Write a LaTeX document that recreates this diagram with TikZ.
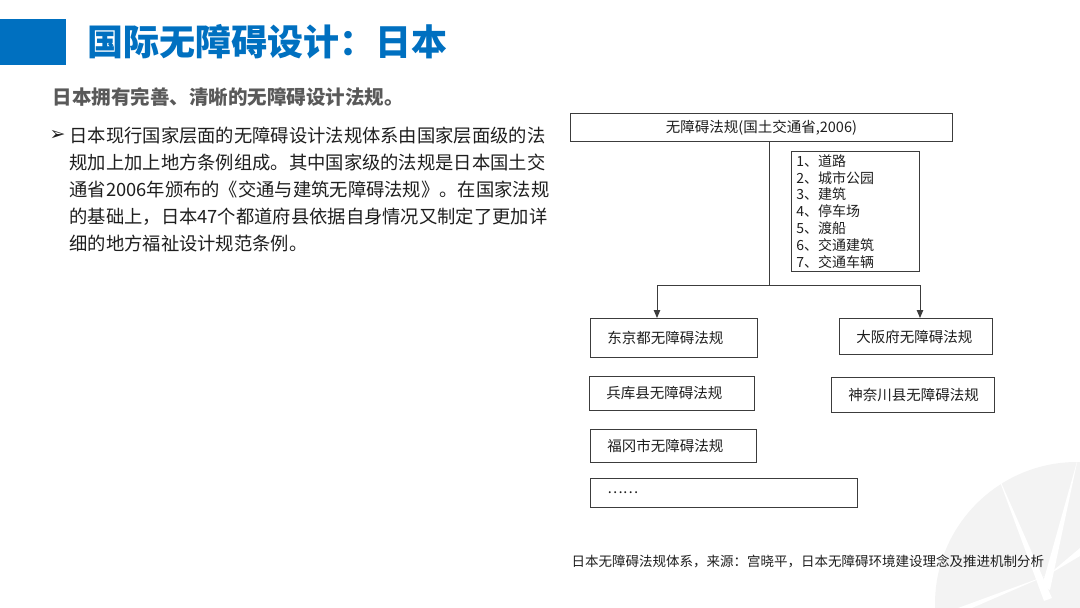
\documentclass[tikz,border=0pt]{standalone}
\usepackage{fontspec}
\setmainfont{Noto Sans CJK SC}
\newfontfamily\symfont{DejaVu Sans}
\usetikzlibrary{arrows.meta, calc}
\definecolor{titleblue}{RGB}{0,112,192}
\definecolor{subgray}{RGB}{89,89,89}
\definecolor{textdark}{RGB}{30,30,30}
\definecolor{linegray}{RGB}{60,60,60}
\definecolor{bglight}{RGB}{243,243,243}

\begin{document}
\begin{tikzpicture}[x=1pt,y=-1pt,
  lawbox/.style={draw=linegray,line width=0.9pt,anchor=north west,align=left,
    inner xsep=17pt,inner ysep=0pt,font=\fontsize{14.5}{17}\selectfont,text=textdark},
  conn/.style={draw=linegray,line width=0.9pt},
  tip/.style={-{Triangle[length=8pt,width=6.5pt]}}]
  \useasboundingbox (0,0) rectangle (1080,608);
  % Background mark
  \begin{scope}
    \clip (0,0) rectangle (1080,608);
    \fill[bglight] (1077,604) circle (142);
    \fill[white] (996,471)--(1052,598)--(1044,601)--cycle;
    \fill[white] (1078,458)--(1050,590)--(1042,586)--cycle;
    \fill[white] (1048,575)--(958,608)--(972,608)--cycle;
    \fill[white] (1048,575)--(1080,548)--(1080,556)--cycle;
  \end{scope}
  % Header
  \fill[titleblue] (0,19) rectangle (66,65);
  \node[anchor=west,font=\bfseries\fontsize{36}{40}\selectfont,text=titleblue] (title) at (84,42) {国际无障碍设计：日本};
  \node[anchor=west,font=\bfseries\fontsize{19.5}{22}\selectfont,text=subgray] (sub) at (49,97) {日本拥有完善、清晰的无障碍设计法规。};
  % Body text
  \node[anchor=west,font=\symfont\fontsize{19}{19}\selectfont,text=textdark] (bullet) at (46,135) {➢};
  \node[anchor=north west,align=left,font=\fontsize{18.3}{27}\selectfont,text=textdark] (body) at (66,123)
    {日本现行国家层面的无障碍设计法规体系由国家层面级的法\\
     规加上加上地方条例组成。其中国家级的法规是日本国土交\\
     通省2006年颁布的《交通与建筑无障碍法规》。在国家法规\\
     的基础上，日本47个都道府县依据自身情况又制定了更加详\\
     细的地方福祉设计规范条例。};
  % Diagram: national law
  \node[draw=linegray,line width=0.9pt,anchor=north west,minimum width=382pt,minimum height=28pt,
    font=\fontsize{14.5}{17}\selectfont,text=textdark] (top) at (570,113) {无障碍法规(国土交通省,2006)};
  \node[draw=linegray,line width=0.9pt,anchor=north west,minimum width=128pt,minimum height=120pt,
    align=left,text width=118pt,inner xsep=5pt,inner ysep=0pt,font=\fontsize{14}{16.8}\selectfont,text=textdark] (types) at (791,151)
    {1、道路\\2、城市公园\\3、建筑\\4、停车场\\5、渡船\\6、交通建筑\\7、交通车辆};
  % Diagram: local laws
  \node[lawbox,minimum height=39pt,text width=133pt] (tokyo) at (590,318) {东京都无障碍法规};
  \node[lawbox,minimum height=34pt,text width=131pt] (hyogo) at (589,376) {兵库县无障碍法规};
  \node[lawbox,minimum height=33pt,text width=132pt] (fukuoka) at (590,429) {福冈市无障碍法规};
  \node[lawbox,minimum height=29pt,text width=233pt] (more) at (590,478) {……};
  \node[lawbox,minimum height=36pt,text width=119pt] (osaka) at (839,318) {大阪府无障碍法规};
  \node[lawbox,minimum height=35pt,text width=129pt] (kanagawa) at (831,377) {神奈川县无障碍法规};
  % Connectors
  \coordinate (split) at (769,285);
  \coordinate (jl) at (657,285);
  \coordinate (jr) at (920,285);
  \draw[conn] (top.south -| split)--(split);
  \draw[conn] (jl)--(jr);
  \draw[conn,tip] (jl)--(jl |- tokyo.north);
  \draw[conn,tip] (jr)--(jr |- osaka.north);
  % Source
  \node[anchor=west,font=\fontsize{13.5}{15}\selectfont,text=textdark] (source) at (568,561)
    {日本无障碍法规体系，来源：宫晓平，日本无障碍环境建设理念及推进机制分析};
\end{tikzpicture}
\end{document}
